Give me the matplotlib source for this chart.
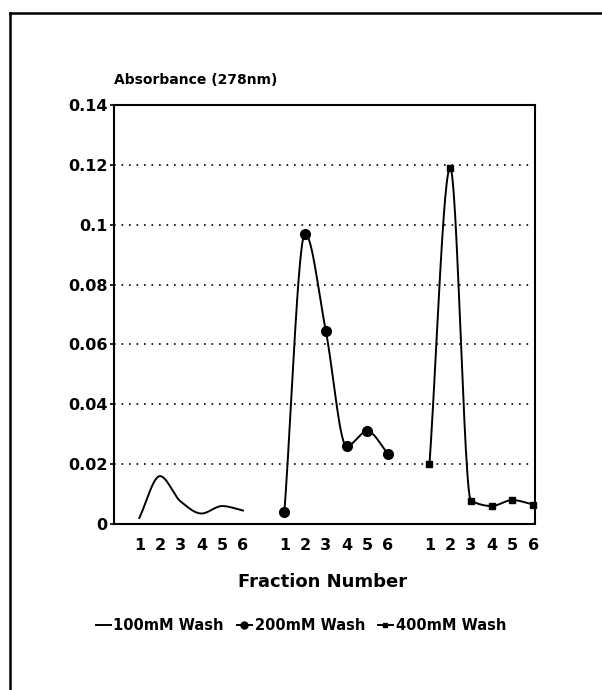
import numpy as np
import matplotlib
matplotlib.use("Agg")
from matplotlib import pyplot as plt
from matplotlib.lines import Line2D

# Absorbance of each fraction for the three salt washes
fractions = [1, 2, 3, 4, 5, 6]
wash_100mM = [0.002, 0.016, 0.0075, 0.0035, 0.006, 0.0045]
wash_200mM = [0.004, 0.097, 0.0645, 0.026, 0.031, 0.0235]
wash_400mM = [0.020, 0.119, 0.0078, 0.006, 0.008, 0.0065]
legend_labels = ["100mM Wash", "200mM Wash", "400mM Wash"]
y_ticks = [0, 0.02, 0.04, 0.06, 0.08, 0.1, 0.12, 0.14]
y_tick_labels = ["0", "0.02", "0.04", "0.06", "0.08", "0.1", "0.12", "0.14"]

plt.rcParams['font.family'] = ['DejaVu Sans']
plt.rcParams['font.weight'] = 'bold'


def smooth(x, y, n=30):
    # monotone cubic (Fritsch-Carlson) curve through the points
    x = np.asarray(x, float)
    y = np.asarray(y, float)
    h = np.diff(x)
    d = np.diff(y) / h
    m = np.zeros_like(y)
    m[0], m[-1] = d[0], d[-1]
    for i in range(1, len(y) - 1):
        if d[i - 1] * d[i] > 0:
            w1 = 2 * h[i] + h[i - 1]
            w2 = h[i] + 2 * h[i - 1]
            m[i] = (w1 + w2) / (w1 / d[i - 1] + w2 / d[i])
    xs, ys = [], []
    for i in range(len(x) - 1):
        t = np.linspace(0, 1, n)
        h00 = 2 * t**3 - 3 * t**2 + 1
        h10 = t**3 - 2 * t**2 + t
        h01 = -2 * t**3 + 3 * t**2
        h11 = t**3 - t**2
        xs.extend(x[i] + t * h[i])
        ys.extend(h00 * y[i] + h10 * h[i] * m[i] + h01 * y[i + 1] + h11 * h[i] * m[i + 1])
    return np.array(xs), np.array(ys)


fig = plt.figure(figsize=(6.02, 6.90), dpi=100)
ax = fig.add_axes([0.19, 0.2406, 0.699, 0.6072])

# groups sit side by side with a gap of one slot between them
offsets = [0, 7, 14]
series = [wash_100mM, wash_200mM, wash_400mM]
markers = [None, 'o', 's']
msizes = [0, 7, 4]
for off, vals, mk, ms in zip(offsets, series, markers, msizes):
    xpos = [f - 1 + off for f in fractions]
    sx, sy = smooth(xpos, vals)
    ax.plot(sx, sy, color='black', lw=1.4, clip_on=False)
    if mk:
        ax.plot(xpos, vals, ls='none', marker=mk, ms=ms, color='black', clip_on=False)

for v in y_ticks[1:-1]:
    ax.axhline(v, color='black', ls=(0, (1, 3.5)), lw=1.2, zorder=0)

ax.set_xlim(-1.2, 19.1)
ax.set_ylim(0, 0.14)
ax.set_yticks(y_ticks)
ax.set_yticklabels(y_tick_labels, fontsize=11.5, fontweight='bold')
xt = [f - 1 + off for off in offsets for f in fractions]
ax.set_xticks(xt)
ax.set_xticklabels([str(f) for _ in offsets for f in fractions], fontsize=11.5, fontweight='bold')
ax.tick_params(axis='x', length=0, pad=10)
ax.tick_params(axis='y', length=3, width=1.2, pad=2)
for s in ax.spines.values():
    s.set_linewidth(1.5)

fig.text(0.19, 0.884, "Absorbance (278nm)", fontsize=10, fontweight='bold', va='center')
fig.text(0.535, 0.157, "Fraction Number", fontsize=13, fontweight='bold',
         ha='center', va='center')

handles = [Line2D([], [], color='black', lw=1.4),
           Line2D([], [], color='black', lw=1.4, marker='o', ms=5),
           Line2D([], [], color='black', lw=1.4, marker='s', ms=3)]
fig.legend(handles, legend_labels, loc='center', bbox_to_anchor=(0.5, 0.094),
           ncol=3, frameon=False, handlelength=1.0, handletextpad=0.2,
           columnspacing=0.9, prop={'size': 10.5, 'weight': 'bold'})

# page frame around the figure
fig.add_artist(Line2D([0.016, 1.0], [0.981, 0.981], color='black', lw=1.8))
fig.add_artist(Line2D([0.016, 0.016], [0.981, 0.0], color='black', lw=1.8))

fig.savefig("out.png", dpi=100)
